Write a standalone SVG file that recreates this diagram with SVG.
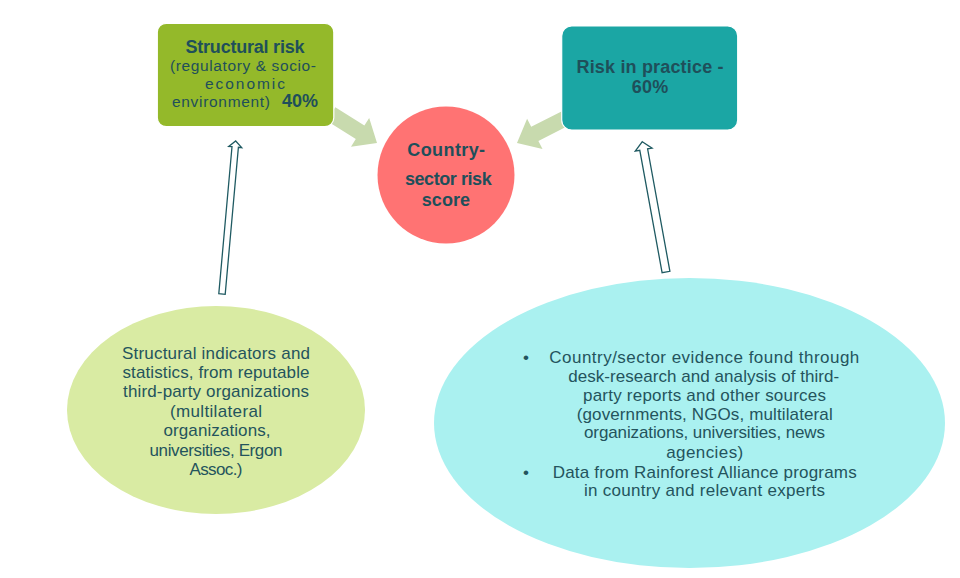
<svg xmlns="http://www.w3.org/2000/svg" width="960" height="578" viewBox="0 0 960 578">
<style>
text{font-family:"Liberation Sans",Arial,sans-serif;fill:#1f4f5a;text-anchor:middle}
.b{font-weight:bold}
.t{font-size:18px}
.c{font-size:18px}
.r{font-size:15.5px}
.e{font-size:17px;fill:#24545d}
.blk{fill:#c8daae}
.hol{fill:#ffffff;stroke:#1f5a62;stroke-width:1.3;stroke-linejoin:miter}
</style>
<rect width="960" height="578" fill="#ffffff"/>
<g id="connectors">
<polygon class="blk" points="335.3,107.2 364.4,125.5 369.2,117.9 377,143 351,146.7 355.8,139.1 326.7,120.8"/>
<polygon class="blk" points="566.4,108.9 531.2,126.8 527.1,118.8 517,143 542.5,149 538.4,141 573.6,123.1"/>
<polygon class="hol" points="235.7,141 241.7,147.6 238.4,147.3 225.2,294.3 218.8,293.7 232,146.7 228.7,146.4"/>
<polygon class="hol" points="642.3,141.7 652.1,148.1 647.6,148.9 669.9,271.3 662.1,272.7 639.8,150.3 635.3,151.1"/>
</g>
<g id="structural-risk">
<rect x="157.3" y="23.3" width="176.5" height="103.4" rx="9" fill="#94b92a" stroke="#ffffff" stroke-width="1.2"/>
<text class="b t" x="245" y="52.5" textLength="119">Structural risk</text>
<text class="r" x="243" y="71" textLength="146">(regulatory &amp; socio-</text>
<text class="r" x="245" y="89" textLength="80">economic</text>
<text class="r" y="107.3"><tspan x="221" textLength="98">environment)</tspan><tspan class="b t" x="300" textLength="36">40%</tspan></text>
</g>
<g id="risk-in-practice">
<rect x="561.7" y="26" width="176" height="104" rx="10" fill="#1ba6a4" stroke="#ffffff" stroke-width="1.2"/>
<text class="b t" x="650" y="73.3" textLength="147">Risk in practice -</text>
<text class="b t" x="650" y="93.3" textLength="36.6">60%</text>
</g>
<g id="country-sector-risk-score">
<circle cx="446" cy="175" r="68.5" fill="#ff7373"/>
<text class="b c" x="446.2" y="156" textLength="77.7">Country-</text>
<text class="b c" x="448.3" y="185" textLength="86.7">sector risk</text>
<text class="b c" x="445.9" y="206" textLength="48.3">score</text>
</g>
<g id="structural-indicators">
<ellipse cx="216" cy="410" rx="149" ry="104" fill="#d9eba3"/>
<text class="e" x="216" y="359" textLength="188">Structural indicators and</text>
<text class="e" x="216" y="378.3" textLength="187">statistics, from reputable</text>
<text class="e" x="216" y="397.3" textLength="186">third-party organizations</text>
<text class="e" x="216" y="416.7" textLength="92">(multilateral</text>
<text class="e" x="217" y="435.7" textLength="107">organizations,</text>
<text class="e" x="216" y="455.7" textLength="133">universities, Ergon</text>
<text class="e" x="216" y="475" textLength="53">Assoc.)</text>
</g>
<g id="country-sector-evidence">
<ellipse cx="689.5" cy="423" rx="255.5" ry="145" fill="#aaf1f0"/>
<text class="e" x="526" y="363.3">•</text>
<text class="e" x="704.3" y="363.3" textLength="310">Country/sector evidence found through</text>
<text class="e" x="703.7" y="381.7" textLength="271">desk-research and analysis of third-</text>
<text class="e" x="704.5" y="400.7" textLength="243">party reports and other sources</text>
<text class="e" x="704.7" y="420" textLength="256">(governments, NGOs, multilateral</text>
<text class="e" x="704.5" y="438.3" textLength="241">organizations, universities, news</text>
<text class="e" x="704.7" y="458.3" textLength="77">agencies)</text>
<text class="e" x="526" y="477.7">•</text>
<text class="e" x="704.7" y="477.7" textLength="304">Data from Rainforest Alliance programs</text>
<text class="e" x="704.5" y="495.7" textLength="241">in country and relevant experts</text>
</g>
</svg>
